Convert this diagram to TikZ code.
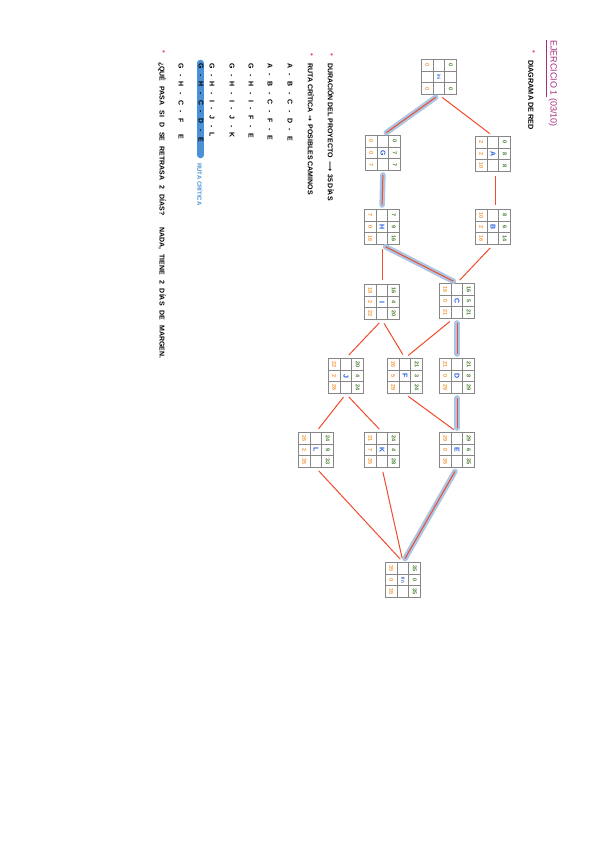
\documentclass[tikz,border=0pt]{standalone}
\usepackage{fontspec}
\setmainfont{Liberation Sans}
\newfontfamily\dejavu{DejaVu Sans}
\definecolor{edgered}{RGB}{240,75,45}
\definecolor{critblue}{RGB}{170,198,228}
\definecolor{numorange}{RGB}{245,155,60}
\definecolor{numgreen}{RGB}{70,125,40}
\definecolor{actblue}{RGB}{35,95,225}
\definecolor{titlepurple}{RGB}{165,45,125}
\definecolor{bulletpink}{RGB}{230,60,140}
\definecolor{hlblue}{RGB}{75,145,215}
\definecolor{gridgray}{RGB}{135,135,135}
\newcommand\gap{\hspace{5.5pt}}
\begin{document}
\begin{tikzpicture}[x=1pt,y=-1pt,
  nbox/.style={draw=gridgray, line width=0.9pt, minimum size=35pt, inner sep=0pt, fill=white},
  gridln/.style={draw=gridgray, line width=0.7pt},
  cell/.style={rotate=-90, inner sep=0pt, font=\fontsize{5.5}{5.5}\selectfont\bfseries},
  esv/.style={cell, text=numgreen},
  lsv/.style={cell, text=numorange},
  actv/.style={cell, text=actblue, font=\fontsize{7}{7}\selectfont\bfseries},
  edge/.style={draw=edgered, line width=1pt, shorten >=4pt, shorten <=4pt},
  critbg/.style={draw=critblue, line width=5.5pt, line cap=round, shorten >=4pt, shorten <=4pt},
  txt/.style={rotate=-90, anchor=west, inner sep=0pt, font=\fontsize{7}{7}\selectfont\bfseries},
  bul/.style={rotate=-90, inner sep=0pt, text=bulletpink, font=\fontsize{8}{8}\selectfont}
]
\useasboundingbox (0,0) rectangle (600,848);
\fill[white] (0,0) rectangle (600,848);

\newcommand\netnode[9]{%
  \node[nbox] (#1) at #2 {};
  \draw[gridln] ([xshift=-5.83pt]#1.north) -- ([xshift=-5.83pt]#1.south);
  \draw[gridln] ([xshift=5.83pt]#1.north) -- ([xshift=5.83pt]#1.south);
  \draw[gridln] ([yshift=-5.83pt]#1.west) -- ([yshift=-5.83pt]#1.east);
  \draw[gridln] ([yshift=5.83pt]#1.west) -- ([yshift=5.83pt]#1.east);
  \node[esv] (#1-es) at ([xshift=11.67pt,yshift=11.67pt]#1.center) {#3};
  \node[esv] (#1-du) at ([xshift=11.67pt]#1.center) {#4};
  \node[esv] (#1-ef) at ([xshift=11.67pt,yshift=-11.67pt]#1.center) {#5};
  \node[actv] (#1-ac) at (#1.center) {#6};
  \node[lsv] (#1-ls) at ([xshift=-11.67pt,yshift=11.67pt]#1.center) {#7};
  \node[lsv] (#1-hg) at ([xshift=-11.67pt]#1.center) {#8};
  \node[lsv] (#1-lf) at ([xshift=-11.67pt,yshift=-11.67pt]#1.center) {#9};
}
\newcommand\critedge[2]{%
  \draw[critbg] (#1) -- (#2);
  \draw[edge] (#1) -- (#2);
}

% nodes
\netnode{st}{(439,77)}{0}{}{0}{\fontsize{4.5}{4.5}\selectfont ini}{0}{}{0}
\netnode{A}{(493,154)}{0}{8}{8}{A}{2}{2}{10}
\netnode{G}{(383,153)}{0}{7}{7}{G}{0}{0}{7}
\netnode{B}{(493,227)}{8}{6}{14}{B}{10}{2}{16}
\netnode{H}{(382,227)}{7}{9}{16}{H}{7}{0}{16}
\netnode{C}{(457,301)}{16}{5}{21}{C}{16}{0}{21}
\netnode{I}{(382,302)}{16}{4}{20}{I}{18}{2}{22}
\netnode{D}{(457,376)}{21}{8}{29}{D}{21}{0}{29}
\netnode{F}{(405,376)}{21}{3}{24}{F}{26}{5}{29}
\netnode{J}{(346,376)}{20}{4}{24}{J}{22}{2}{26}
\netnode{E}{(457,450)}{29}{6}{35}{E}{29}{0}{35}
\netnode{K}{(382,450)}{24}{4}{28}{K}{31}{7}{35}
\netnode{L}{(316,450)}{24}{9}{33}{L}{26}{2}{35}
\netnode{fin}{(403,580)}{35}{0}{35}{\fontsize{4.5}{4.5}\selectfont fin}{35}{0}{35}

% edges
\draw[edge] (st.south) -- (A.north);
\critedge{st.south}{G.north}
\draw[edge] ([xshift=2.5pt]A.south) -- ([xshift=2.5pt]B.north);
\critedge{G.south}{H.north}
\draw[edge] (B.south) -- (C.north);
\critedge{H.south}{C.north}
\draw[edge] (H.south) -- (I.north);
\critedge{C.south}{D.north}
\draw[edge] ([xshift=-4pt]C.south) -- (F.north);
\draw[edge] (I.south) -- (F.north);
\draw[edge] (I.south) -- (J.north);
\critedge{D.south}{E.north}
\draw[edge] (F.south) -- (E.north);
\draw[edge] (J.south) -- (L.north);
\draw[edge] (J.south) -- (K.north);
\critedge{E.south}{fin.north}
\draw[edge] (K.south) -- (fin.north);
\draw[edge] (L.south) -- (fin.north);

% texts
\node[txt, text=titlepurple, font=\fontsize{9}{9}\selectfont] (title) at (553,40) {EJERCICIO 1 (03/10)};
\draw[titlepurple, line width=0.6pt] (546,40) -- (546,97);
\node[bul] (b1) at (533,52) {•};
\node[txt, font=\fontsize{7.3}{7.3}\selectfont\bfseries] (t1) at (531,60) {DIAGRAMA DE RED};

\node[bul] (b2) at (331,55) {•};
\node[txt] (t2) at (331,63) {DURACIÓN DEL PROYECTO \,{\dejavu ⟶}\, 35 DÍAS};
\node[bul] (b3) at (311,55) {•};
\node[txt] (t3) at (311,63) {RUTA CRÍTICA \,{\dejavu →}\, POSIBLES CAMINOS};
\node[txt] (p1) at (290,63) {A\gap-\gap B\gap-\gap C\gap-\gap D\gap-\gap E};
\node[txt] (p2) at (270,63) {A\gap-\gap B\gap-\gap C\gap-\gap F\gap-\gap E};
\node[txt] (p3) at (251,63) {G\gap-\gap H\gap-\gap I\gap-\gap F\gap-\gap E};
\node[txt] (p4) at (232,63) {G\gap-\gap H\gap-\gap I\gap-\gap J\gap-\gap K};
\node[txt] (p5) at (212,63) {G\gap-\gap H\gap-\gap I\gap-\gap J\gap-\gap L};
\draw[hlblue, line width=6.5pt, line cap=round] (200.5,63) -- (200.5,155);
\node[txt] (p6) at (201,63) {G\gap-\gap H\gap-\gap C\gap-\gap D\gap-\gap E};
\node[txt, text=hlblue, font=\fontsize{6}{6}\selectfont\bfseries] (rc) at (200,163) {RUTA CRÍTICA};
\node[txt] (p7) at (181,63) {G\gap-\gap H\gap-\gap C\gap-\gap F\gap\gap E};
\node[bul] (b4) at (163,52) {•};
\node[txt] (q) at (162,62) {\spaceskip=5pt plus 1pt\relax ¿QUÉ PASA SI D SE RETRASA 2 DÍAS? \quad NADA, TIENE 2 DÍAS DE MARGEN.};
\end{tikzpicture}
\end{document}
